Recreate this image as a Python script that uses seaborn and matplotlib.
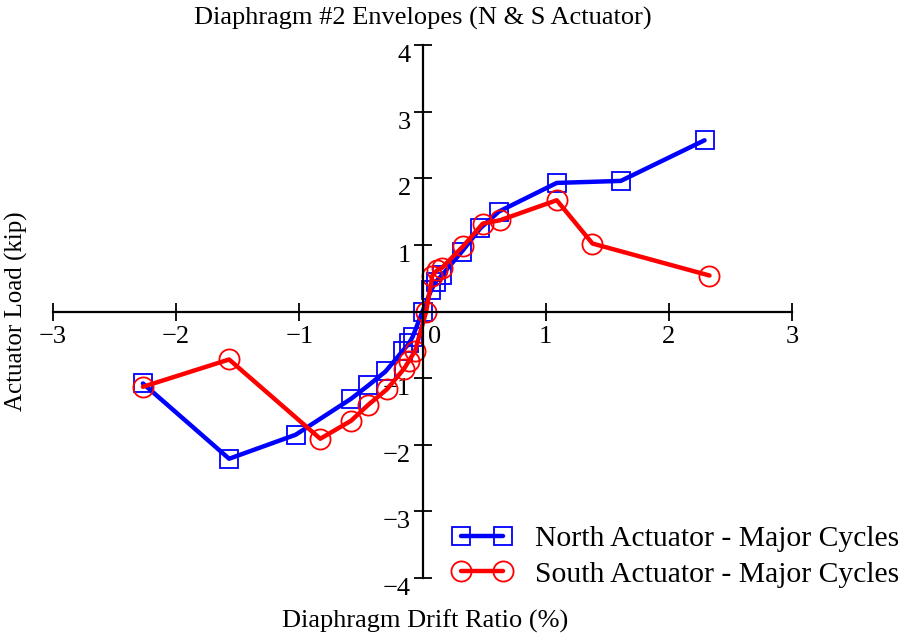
import matplotlib
matplotlib.use("Agg")
import matplotlib.pyplot as plt
import matplotlib.transforms as mtransforms
import seaborn as sns
import pandas as pd

# Envelope points: drift ratio (%) vs actuator load (kip)
north_drift = [-2.27, -1.57, -1.03, -0.58, -0.44, -0.30, -0.16, -0.11, -0.08,
               0.00, 0.07, 0.11, 0.16, 0.32, 0.47, 0.62, 1.09, 1.61, 2.29]
north_load = [-1.08, -2.21, -1.85, -1.31, -1.11, -0.90, -0.59, -0.48, -0.38,
              0.00, 0.32, 0.45, 0.55, 0.90, 1.25, 1.50, 1.93, 1.96, 2.57]

south_drift = [-2.27, -1.57, -0.83, -0.58, -0.44, -0.29, -0.15, -0.11, -0.06,
               0.03, 0.08, 0.12, 0.16, 0.33, 0.49, 0.63, 1.09, 1.38, 2.33]
south_load = [-1.13, -0.72, -1.91, -1.64, -1.40, -1.17, -0.86, -0.74, -0.59,
              0.00, 0.54, 0.62, 0.66, 0.98, 1.32, 1.37, 1.67, 1.02, 0.54]

x_ticks = [-3, -2, -1, 0, 1, 2, 3]
y_ticks = [-4, -3, -2, -1, 1, 2, 3, 4]

north = pd.DataFrame({"drift": north_drift, "load": north_load})
south = pd.DataFrame({"drift": south_drift, "load": south_load})

sns.set_theme(style="white")
plt.rcParams["font.family"] = ["Liberation Serif", "DejaVu Serif"]
plt.rcParams["axes.unicode_minus"] = True

fig = plt.figure(figsize=(8.99, 6.38), dpi=100)
ax = fig.add_axes([53 / 899, 1 - 578 / 638, (792 - 53) / 899, (578 - 45) / 638])

sns.lineplot(data=north, x="drift", y="load", sort=False, estimator=None,
             color="#0000ff", lw=3.2, marker="s", markersize=13,
             markerfacecolor="none", markeredgecolor="#0000ff",
             markeredgewidth=1.3, ax=ax, label="North Actuator - Major Cycles")
sns.lineplot(data=south, x="drift", y="load", sort=False, estimator=None,
             color="#ff0000", lw=3.2, marker="o", markersize=14.5,
             markerfacecolor="none", markeredgecolor="#ff0000",
             markeredgewidth=1.3, ax=ax, label="South Actuator - Major Cycles")

ax.set_xlim(-3, 3)
ax.set_ylim(-4, 4)

# Axes cross at the origin
for side in ("top", "right"):
    ax.spines[side].set_visible(False)
for side in ("left", "bottom"):
    ax.spines[side].set_position("zero")
    ax.spines[side].set_color("black")
    ax.spines[side].set_linewidth(1.6)

ax.set_xticks(x_ticks)
ax.set_yticks(y_ticks)
ax.set_xticklabels([f"\u2212{abs(v)}" if v < 0 else f"{v}" for v in x_ticks])
ax.set_yticklabels([f"\u2212{abs(v)}" if v < 0 else f"{v}" for v in y_ticks])
ax.tick_params(axis="both", bottom=True, left=True, direction="inout",
               length=13, width=1.3, color="black", labelsize=19,
               labelcolor="black", pad=2)
ax.tick_params(axis="x", pad=4)

for lab in ax.get_yticklabels():
    lab.set_va("top")
for lab, v in zip(ax.get_xticklabels(), x_ticks):
    if v == 0:
        lab.set_ha("left")
        lab.set_transform(lab.get_transform() +
                          mtransforms.ScaledTranslation(4 / 72, 0, fig.dpi_scale_trans))

ax.set_title("Diaphragm #2 Envelopes (N & S Actuator)", fontsize=19, pad=15,
             color="black")
ax.set_xlabel("Diaphragm Drift Ratio (%)", fontsize=19, color="black")
ax.set_ylabel("Actuator Load (kip)", fontsize=18, color="black")
ax.xaxis.set_label_coords(0.503, -0.06)
ax.yaxis.set_label_coords(-0.034, 0.5)

ax.legend_.remove()
handles, labels = ax.get_legend_handles_labels()
leg = fig.legend(handles, labels, loc="lower right", bbox_to_anchor=(1.03, 0.037),
                 frameon=False, fontsize=21.3, numpoints=2, handlelength=2.0,
                 handletextpad=0.8, labelspacing=0.3)
for t in leg.get_texts():
    t.set_color("black")

fig.savefig("out.png", dpi=100)
